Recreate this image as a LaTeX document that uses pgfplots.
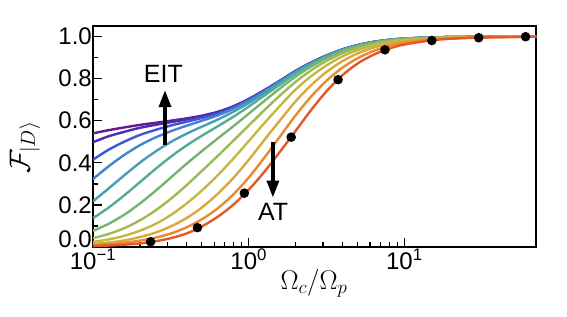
\RequirePackage{fix-cm}
\documentclass[border=0pt]{standalone}
\usepackage{fontspec}
\setmainfont{Liberation Sans}
\usepackage{pgfplots}
\usepackage{pgfplotstable}
\pgfplotsset{compat=1.18}
\usetikzlibrary{arrows.meta}

\definecolor{c1}{HTML}{64198C}
\definecolor{c2}{HTML}{4B2CB8}
\definecolor{c3}{HTML}{3D55D6}
\definecolor{c4}{HTML}{4483CF}
\definecolor{c5}{HTML}{4A9CB5}
\definecolor{c6}{HTML}{55AC96}
\definecolor{c7}{HTML}{74B572}
\definecolor{c8}{HTML}{9DBA55}
\definecolor{c9}{HTML}{C2B842}
\definecolor{c10}{HTML}{DBA93A}
\definecolor{c11}{HTML}{E78A33}
\definecolor{c12}{HTML}{E4572A}

\pgfplotstableread{
x      c1     c2     c3     c4     c5     c6     c7     c8     c9     c10    c11    c12
0.1    0.540  0.498  0.415  0.323  0.217  0.137  0.077  0.042  0.024  0.014  0.009  0.004
0.1259 0.555  0.526  0.462  0.383  0.278  0.187  0.110  0.062  0.036  0.021  0.013  0.007
0.1585 0.568  0.547  0.500  0.437  0.340  0.245  0.153  0.089  0.053  0.031  0.020  0.011
0.1995 0.580  0.566  0.532  0.483  0.400  0.307  0.206  0.126  0.077  0.047  0.030  0.017
0.2512 0.590  0.580  0.556  0.520  0.453  0.370  0.266  0.173  0.109  0.068  0.044  0.027
0.3162 0.600  0.593  0.577  0.550  0.499  0.429  0.330  0.229  0.152  0.098  0.064  0.042
0.3981 0.611  0.606  0.595  0.576  0.538  0.482  0.395  0.293  0.206  0.137  0.093  0.064
0.5012 0.624  0.621  0.613  0.600  0.572  0.529  0.456  0.362  0.269  0.188  0.132  0.098
0.6310 0.642  0.640  0.634  0.625  0.605  0.573  0.515  0.432  0.340  0.252  0.183  0.143
0.7943 0.668  0.667  0.663  0.656  0.642  0.618  0.573  0.504  0.419  0.327  0.249  0.200
1      0.703  0.702  0.699  0.695  0.684  0.667  0.633  0.577  0.503  0.414  0.330  0.272
1.259  0.745  0.744  0.742  0.739  0.732  0.719  0.694  0.650  0.588  0.508  0.424  0.357
1.585  0.790  0.789  0.788  0.786  0.780  0.771  0.753  0.719  0.670  0.601  0.524  0.452
1.995  0.836  0.836  0.835  0.833  0.829  0.823  0.809  0.784  0.747  0.691  0.624  0.550
2.512  0.876  0.876  0.875  0.874  0.871  0.867  0.857  0.839  0.811  0.768  0.714  0.650
3.162  0.910  0.910  0.909  0.909  0.907  0.903  0.897  0.884  0.863  0.832  0.790  0.740
3.981  0.938  0.938  0.938  0.937  0.936  0.933  0.929  0.920  0.905  0.882  0.851  0.815
5.012  0.959  0.959  0.959  0.958  0.957  0.956  0.953  0.946  0.936  0.920  0.897  0.872
6.310  0.974  0.974  0.974  0.974  0.973  0.972  0.970  0.965  0.958  0.947  0.931  0.913
7.943  0.984  0.984  0.984  0.984  0.983  0.983  0.981  0.978  0.973  0.966  0.955  0.942
10     0.990  0.990  0.990  0.990  0.990  0.989  0.988  0.986  0.983  0.978  0.970  0.962
15.85  0.996  0.996  0.996  0.996  0.996  0.996  0.995  0.994  0.993  0.990  0.987  0.984
25.12  0.998  0.998  0.998  0.998  0.998  0.998  0.998  0.997  0.997  0.995  0.994  0.993
39.81  0.999  0.999  0.999  0.999  0.999  0.999  0.999  0.999  0.998  0.998  0.997  0.997
70     1.000  1.000  1.000  1.000  1.000  1.000  1.000  1.000  1.000  1.000  0.999  0.999
}\curves

\pgfplotstableread{
x      y
0.2344 0.025
0.4688 0.092
0.9375 0.256
1.875  0.522
3.75   0.795
7.5    0.937
15     0.981
30     0.994
60     0.999
}\dots

\begin{document}
\begin{tikzpicture}
\useasboundingbox (-93pt,-69pt) rectangle (474pt,247pt);
\begin{axis}[
  at={(0,0)}, anchor=south west,
  scale only axis, width=443pt, height=221pt,
  xmode=log, xmin=0.1, xmax=70, ymin=0, ymax=1.05,
  axis line style={line width=2pt},
  xtick={0.1,1,10},
  xticklabels={10\textsuperscript{−1},10\textsuperscript{0},10\textsuperscript{1}},
  ytick={0,0.2,0.4,0.6,0.8,1.0},
  yticklabels={\raisebox{0pt}[0pt][0pt]{0.0},0.2,0.4,0.6,0.8,1.0},
  minor ytick={0.1,0.3,0.5,0.7,0.9},
  xtick pos=bottom, ytick pos=left,
  tick align=inside,
  major tick length=9pt, minor tick length=5pt,
  every tick/.style={black, line width=1.3pt},
  tick label style={font=\fontsize{24}{28}\selectfont, inner sep=1pt},
  xticklabel style={yshift=-1pt},
  xlabel={$\Omega_c/\Omega_p$},
  ylabel={$\mathcal{F}_{|D\rangle}$},
  label style={font=\fontsize{27}{31}\selectfont},
  xlabel style={at={(axis description cs:0.499,-0.163)}, anchor=center},
  ylabel style={at={(axis description cs:-0.1535,0.45)}, anchor=center, font=\fontsize{29}{33}\selectfont},
  every axis plot/.append style={line width=2.4pt},
]
\addplot[c1, smooth] table[x=x, y=c1] {\curves};
\addplot[c2, smooth] table[x=x, y=c2] {\curves};
\addplot[c3, smooth] table[x=x, y=c3] {\curves};
\addplot[c4, smooth] table[x=x, y=c4] {\curves};
\addplot[c5, smooth] table[x=x, y=c5] {\curves};
\addplot[c6, smooth] table[x=x, y=c6] {\curves};
\addplot[c7, smooth] table[x=x, y=c7] {\curves};
\addplot[c8, smooth] table[x=x, y=c8] {\curves};
\addplot[c9, smooth] table[x=x, y=c9] {\curves};
\addplot[c10, smooth] table[x=x, y=c10] {\curves};
\addplot[c11, smooth] table[x=x, y=c11] {\curves};
\addplot[c12, smooth] table[x=x, y=c12] {\curves};
\addplot[only marks, mark=*, mark size=3.5pt, black] table[x=x, y=y] {\dots};

\draw[line width=3.5pt, -{Triangle[width=12pt,length=17pt]}] (axis cs:0.29,0.486) -- (axis cs:0.29,0.745);
\draw[line width=3.5pt, -{Triangle[width=12pt,length=17pt]}] (axis cs:1.43,0.501) -- (axis cs:1.43,0.235);
\node[font=\fontsize{25}{30}\selectfont] at (axis cs:0.283,0.821) {EIT};
\node[font=\fontsize{25}{30}\selectfont] at (axis cs:1.435,0.167) {AT};
\end{axis}
\end{tikzpicture}
\end{document}
